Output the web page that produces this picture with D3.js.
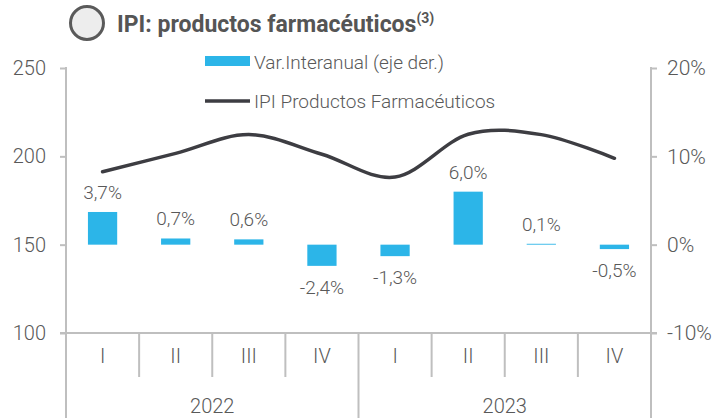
<!DOCTYPE html>
<html>
<head>
<meta charset="utf-8">
<script src="https://cdn.jsdelivr.net/npm/d3@7"></script>
<style>
  body { margin: 0; background: #fff; }
  svg text { font-family: Roboto, "Noto Sans", sans-serif; fill: #595959; font-weight: 300; }
</style>
</head>
<body>
<script>
// data
const years = ["2022", "2023"];
const quarters = ["I", "II", "III", "IV"];
const varInteranual = [3.7, 0.7, 0.6, -2.4, -1.3, 6.0, 0.1, -0.5];
const ipiFarma = [191.3, 201.7, 212.3, 201.2, 188.3, 212.5, 212.3, 198.9];
const leftTicks = [100, 150, 200, 250];
const rightTicks = [-10, 0, 10, 20];

const periods = [];
years.forEach(y => quarters.forEach(q => periods.push({ year: y, q: q, key: y + "-" + q })));

const width = 723, height = 418;
const plot = { left: 66, right: 651, top: 68, bottom: 333 };

const locale = d3.formatLocale({ decimal: ",", thousands: ".", grouping: [3], currency: ["$", ""], minus: "-" });
const fmt1 = locale.format(".1f");
const fmt0 = locale.format("d");

const svg = d3.select("body").append("svg")
  .attr("width", width)
  .attr("height", height);

const x = d3.scaleBand()
  .domain(periods.map(d => d.key))
  .range([plot.left, plot.right]);
const step = x.step();
const barW = step * 0.4;

const yLeft = d3.scaleLinear().domain([100, 250]).range([plot.bottom, plot.top]);
const yRight = d3.scaleLinear().domain([-10, 20]).range([plot.bottom, plot.top]);

const axisColor = "#bfbfbf";

// title
svg.append("circle")
  .attr("cx", 87).attr("cy", 23).attr("r", 16.5)
  .attr("fill", "#ededed")
  .attr("stroke", "#5a5a5a")
  .attr("stroke-width", 3);

const title = svg.append("text")
  .attr("x", 117).attr("y", 32)
  .style("font-size", "23px")
  .style("font-weight", "bold")
  .style("fill", "#555");
title.append("tspan").text("IPI: productos farmacéuticos");
title.append("tspan").attr("dy", -9).style("font-size", "14px").text("(3)");

// left axis
const gLeft = svg.append("g")
  .attr("transform", "translate(" + plot.left + ",0)")
  .call(d3.axisLeft(yLeft).tickValues(leftTicks).tickSize(6).tickSizeOuter(0).tickPadding(14).tickFormat(fmt0));
gLeft.select(".domain").remove();
gLeft.selectAll("line").attr("stroke", axisColor).attr("stroke-width", 2);
gLeft.selectAll("text").style("font-size", "20px").style("font-family", "Roboto, sans-serif").style("font-weight", 300).attr("fill", "#595959");

// right axis
const gRight = svg.append("g")
  .attr("transform", "translate(" + plot.right + ",0)")
  .call(d3.axisRight(yRight).tickValues(rightTicks).tickSize(6).tickSizeOuter(0).tickPadding(10).tickFormat(d => fmt0(d) + "%"));
gRight.select(".domain").remove();
gRight.selectAll("line").attr("stroke", axisColor).attr("stroke-width", 2);
gRight.selectAll("text").style("font-size", "21px").style("font-family", "Roboto, sans-serif").style("font-weight", 300).attr("fill", "#595959");

// axis frame lines
svg.append("line")
  .attr("x1", plot.left).attr("x2", plot.left)
  .attr("y1", plot.top - 1).attr("y2", height)
  .attr("stroke", axisColor).attr("stroke-width", 2);
svg.append("line")
  .attr("x1", plot.right).attr("x2", plot.right)
  .attr("y1", plot.top - 1).attr("y2", height)
  .attr("stroke", axisColor).attr("stroke-width", 2);
svg.append("line")
  .attr("x1", plot.left - 6).attr("x2", plot.right + 6)
  .attr("y1", plot.bottom).attr("y2", plot.bottom)
  .attr("stroke", axisColor).attr("stroke-width", 2);

// category separators
periods.slice(1).forEach(d => {
  const isYear = d.q === "I";
  svg.append("line")
    .attr("x1", x(d.key)).attr("x2", x(d.key))
    .attr("y1", plot.bottom).attr("y2", isYear ? height : plot.bottom + 44)
    .attr("stroke", axisColor).attr("stroke-width", 2);
});

// quarter labels
svg.selectAll(".qlabel")
  .data(periods)
  .enter().append("text")
  .attr("class", "qlabel")
  .attr("x", d => x(d.key) + step / 2)
  .attr("y", 363)
  .attr("text-anchor", "middle")
  .style("font-size", "20px")
  .text(d => d.q);

// year labels
svg.selectAll(".ylabel")
  .data(years)
  .enter().append("text")
  .attr("class", "ylabel")
  .attr("x", y => x(y + "-I") + step * quarters.length / 2)
  .attr("y", 413)
  .attr("text-anchor", "middle")
  .style("font-size", "20px")
  .text(y => y);

// bars (right axis)
const barData = periods.map((d, i) => ({ key: d.key, v: varInteranual[i] }));
svg.selectAll(".bar")
  .data(barData)
  .enter().append("rect")
  .attr("class", "bar")
  .attr("x", d => x(d.key) + (step - barW) / 2)
  .attr("width", barW)
  .attr("y", d => yRight(Math.max(0, d.v)))
  .attr("height", d => Math.abs(yRight(d.v) - yRight(0)))
  .attr("fill", "#2cb5e8");

svg.selectAll(".barlabel")
  .data(barData)
  .enter().append("text")
  .attr("class", "barlabel")
  .attr("x", d => x(d.key) + step / 2)
  .attr("y", d => d.v >= 0 ? yRight(d.v) - 13 : yRight(d.v) + 28)
  .attr("text-anchor", "middle")
  .style("font-size", "19px")
  .text(d => fmt1(d.v) + "%");

// line (left axis)
const lineData = periods.map((d, i) => ({ key: d.key, v: ipiFarma[i] }));
const line = d3.line()
  .x(d => x(d.key) + step / 2)
  .y(d => yLeft(d.v))
  .curve(d3.curveCardinal.tension(0));
svg.append("path")
  .datum(lineData)
  .attr("fill", "none")
  .attr("stroke", "#3d3d42")
  .attr("stroke-width", 3.5)
  .attr("stroke-linecap", "round")
  .attr("d", line);

// legend
svg.append("rect")
  .attr("x", 205).attr("y", 56)
  .attr("width", 45).attr("height", 10)
  .attr("fill", "#2cb5e8");
svg.append("text")
  .attr("x", 254).attr("y", 69)
  .style("font-size", "19px")
  .text("Var.Interanual (eje der.)");
svg.append("line")
  .attr("x1", 205).attr("x2", 250)
  .attr("y1", 101).attr("y2", 101)
  .attr("stroke", "#3d3d42").attr("stroke-width", 3.5);
svg.append("text")
  .attr("x", 254).attr("y", 108)
  .style("font-size", "19px")
  .text("IPI Productos Farmacéuticos");
</script>
</body>
</html>
